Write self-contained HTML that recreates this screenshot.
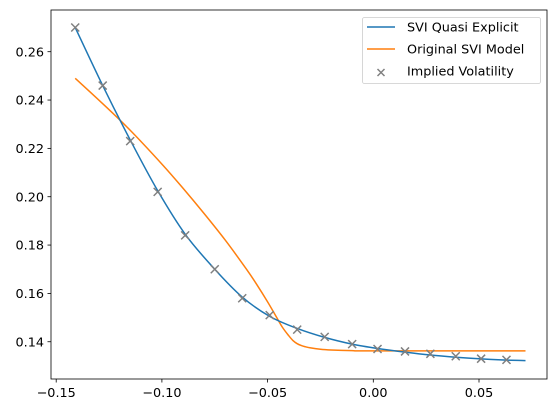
<!DOCTYPE html>
<html><head><meta charset="utf-8"><style>
body{margin:0;background:#fff}
svg text{font-family:"DejaVu Sans","Liberation Sans",sans-serif;font-size:12.8px;fill:#000}
</style></head><body>
<svg id="c" width="556" height="413" xmlns="http://www.w3.org/2000/svg"></svg>
<script>
const xTicks=[-0.15,-0.10,-0.05,0.00,0.05];
const xTickLabels=["−0.15","−0.10","−0.05","0.00","0.05"];
const yTicks=[0.14,0.16,0.18,0.20,0.22,0.24,0.26];
const yTickLabels=["0.14","0.16","0.18","0.20","0.22","0.24","0.26"];
const ivX=[-0.141,-0.128,-0.115,-0.102,-0.089,-0.075,-0.062,-0.049,-0.036,-0.023,-0.010,0.002,0.015,0.027,0.039,0.051,0.063];
const ivY=[0.270,0.246,0.223,0.202,0.184,0.170,0.158,0.151,0.145,0.142,0.139,0.137,0.136,0.135,0.134,0.133,0.1325];
const quasiX=[-0.141,-0.128,-0.115,-0.102,-0.089,-0.075,-0.062,-0.049,-0.036,-0.023,-0.010,0.002,0.015,0.027,0.039,0.051,0.063,0.072];
const quasiY=[0.270,0.246,0.2235,0.2025,0.1845,0.1700,0.1585,0.1505,0.1455,0.1418,0.1390,0.1372,0.1357,0.1345,0.1336,0.1329,0.1324,0.1322];
const origX=[-0.141,-0.128,-0.115,-0.100,-0.090,-0.080,-0.070,-0.060,-0.055,-0.050,-0.046,-0.043,-0.040,-0.038,-0.036,-0.034,-0.032,-0.030,-0.025,-0.020,-0.010,0.000,0.072];
const origY=[0.249,0.2385,0.2275,0.2135,0.2035,0.1930,0.1820,0.1700,0.1635,0.1565,0.1505,0.1460,0.1425,0.1405,0.1392,0.1384,0.1379,0.1375,0.1369,0.1366,0.1363,0.1362,0.1362];
const L=51,R=547,T=10,B=379;
const sx=v=>373.3+(v-0)*2114;
const sy=v=>51.7+(0.26-v)*2417;
const svg=document.getElementById('c');
const NS='http://www.w3.org/2000/svg';
function mk(t,a,p){const e=document.createElementNS(NS,t);for(const k in a)e.setAttribute(k,a[k]);(p||svg).appendChild(e);return e;}
function path(xs,ys){
  const P=xs.map((x,i)=>[sx(x),sy(ys[i])]);
  let d='M'+P[0][0].toFixed(2)+' '+P[0][1].toFixed(2);
  for(let i=0;i<P.length-1;i++){
    const p0=P[i-1]||P[i],p1=P[i],p2=P[i+1],p3=P[i+2]||p2;
    const c1=[p1[0]+(p2[0]-p0[0])/6,p1[1]+(p2[1]-p0[1])/6];
    const c2=[p2[0]-(p3[0]-p1[0])/6,p2[1]-(p3[1]-p1[1])/6];
    d+=`C${c1[0].toFixed(2)} ${c1[1].toFixed(2)} ${c2[0].toFixed(2)} ${c2[1].toFixed(2)} ${p2[0].toFixed(2)} ${p2[1].toFixed(2)}`;
  }
  return d;}
let p=mk('path',{d:path(origX,origY),fill:'none',stroke:'#ff7f0e','stroke-width':1.5,'stroke-linejoin':'round'});


p=mk('path',{d:path(quasiX,quasiY),fill:'none',stroke:'#1f77b4','stroke-width':1.5,'stroke-linejoin':'round'});


ivX.forEach((x,i)=>{const cx=sx(x),cy=sy(ivY[i]);
 const m=mk('path',{d:`M${cx-4} ${cy-4}L${cx+4} ${cy+4}M${cx-4} ${cy+4}L${cx+4} ${cy-4}`,stroke:'#808080','stroke-width':1.5});
 
 });
const f=mk('rect',{x:L,y:T,width:R-L,height:B-T,fill:'none',stroke:'#000','stroke-width':0.8});


xTicks.forEach((v,i)=>{const x=sx(v);mk('line',{x1:x,x2:x,y1:B,y2:B+3.5,stroke:'#000','stroke-width':0.8});
 const t=mk('text',{x:x,y:B+18,'text-anchor':'middle'});t.textContent=xTickLabels[i];
 
 });
yTicks.forEach((v,i)=>{const y=sy(v);mk('line',{x1:L,x2:L-3.5,y1:y,y2:y,stroke:'#000','stroke-width':0.8});
 const t=mk('text',{x:L-7,y:y+4.6,'text-anchor':'end'});t.textContent=yTickLabels[i];
 
 });
const g=mk('g',{});


mk('rect',{x:362.5,y:17.5,width:178,height:66,rx:2,fill:'#fff','fill-opacity':0.8,stroke:'#ccc','stroke-width':0.8},g);
const items=[['SVI Quasi Explicit','#1f77b4','line'],['Original SVI Model','#ff7f0e','line'],['Implied Volatility','#808080','x']];
items.forEach((it,i)=>{const y=27+i*22;
 if(it[2]==='line')mk('line',{x1:367,x2:395,y1:y,y2:y,stroke:it[1],'stroke-width':1.5},g);
 else mk('path',{d:`M${381-3.5} ${y-2}L${381+3.5} ${y+5}M${381-3.5} ${y+5}L${381+3.5} ${y-2}`,stroke:it[1],'stroke-width':1.5},g);
 const t=mk('text',{x:407,y:y+4.5},g);t.textContent=it[0];
 
 });
</script>
</body></html>
